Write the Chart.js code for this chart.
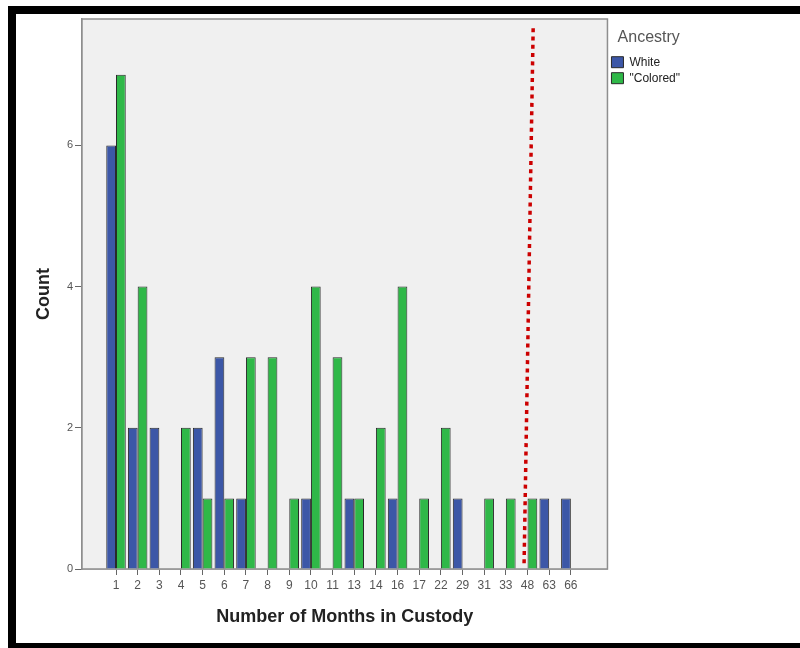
<!DOCTYPE html>
<html>
<head>
<meta charset="utf-8">
<script src="https://cdn.jsdelivr.net/npm/chart.js@4/dist/chart.umd.min.js"></script>
<style>
  html, body { margin: 0; padding: 0; background: #fff; overflow: hidden; }
  #wrap { position: relative; width: 800px; height: 648px; }
  #frame {
    position: absolute; left: 8px; top: 6px; width: 800px; height: 629px;
    border-left: 8px solid #000; border-top: 8px solid #000; border-bottom: 5px solid #000;
    pointer-events: none;
  }
</style>
</head>
<body>
<div id="wrap">
  <canvas id="custodyChart" width="800" height="648"></canvas>
  <div id="frame"></div>
</div>
<script>
const months = ['1', '2', '3', '4', '5', '6', '7', '8', '9', '10', '11', '13', '14', '16', '17', '22', '29', '31', '33', '48', '63', '66'];
const whiteCounts = [6, 2, 2, 0, 2, 3, 1, 0, 0, 1, 0, 1, 0, 1, 0, 0, 1, 0, 0, 0, 1, 1];
const coloredCounts = [7, 4, 0, 2, 1, 1, 3, 3, 1, 4, 3, 1, 2, 4, 1, 2, 0, 1, 1, 1, 0, 0];
const yTicks = [0, 2, 4, 6];

// dotted reference line, in axis units (category index, count)
const cutoffX = [19.26, 18.84];
const cutoffY = [7.66, 0.06];

const toPoints = arr => arr.map((v, i) => ({ x: i, y: v === 0 ? null : v }));

const plotFrame = {
  id: 'plotFrame',
  beforeDatasetsDraw(chart) {
    const { ctx, chartArea: a } = chart;
    ctx.save();
    ctx.fillStyle = '#f0f0f0';
    ctx.fillRect(a.left, a.top, a.right - a.left, a.bottom - a.top);
    ctx.strokeStyle = '#8e8e8e';
    ctx.lineWidth = 1.5;
    ctx.strokeRect(a.left, a.top, a.right - a.left, a.bottom - a.top);
    ctx.restore();
  }
};

const cutoffLine = {
  id: 'cutoffLine',
  afterDatasetsDraw(chart) {
    const { ctx, scales: { x, y } } = chart;
    ctx.save();
    ctx.strokeStyle = '#cc0000';
    ctx.lineWidth = 3.5;
    ctx.setLineDash([4, 4.3]);
    ctx.beginPath();
    ctx.moveTo(x.getPixelForValue(cutoffX[0]), y.getPixelForValue(cutoffY[0]));
    ctx.lineTo(x.getPixelForValue(cutoffX[1]), y.getPixelForValue(cutoffY[1]));
    ctx.stroke();
    ctx.restore();
  }
};

const ctx = document.getElementById('custodyChart').getContext('2d');
const custodyChart = new Chart(ctx, {
  type: 'bar',
  data: {
    datasets: [{
      label: 'White',
      data: toPoints(whiteCounts),
      backgroundColor: '#3c57a7',
      borderColor: '#2a2a2a',
      borderWidth: 1
    }, {
      label: '"Colored"',
      data: toPoints(coloredCounts),
      backgroundColor: '#2fb848',
      borderColor: '#2a2a2a',
      borderWidth: 1
    }]
  },
  options: {
    responsive: false,
    animation: false,
    layout: { padding: { left: 16, top: 19, bottom: 8, right: 110 } },
    datasets: { bar: { categoryPercentage: 0.9, barPercentage: 1 } },
    plugins: {
      tooltip: { enabled: false },
      legend: {
        position: 'right',
        align: 'start',
        title: { display: true, text: 'Ancestry', color: '#555', font: { family: 'Liberation Sans', size: 16 }, padding: { top: 11, bottom: 3 } },
        labels: {
          boxWidth: 12, boxHeight: 11, padding: 4,
          color: '#222',
          font: { family: 'Liberation Sans', size: 12 }
        }
      }
    },
    scales: {
      x: {
        type: 'linear',
        offset: false,
        min: -1.57,
        max: 22.69,
        afterBuildTicks: s => { s.ticks = months.map((m, i) => ({ value: i })); },
        afterFit: s => { s.height = 71; },
        ticks: {
          autoSkip: false, maxRotation: 0, padding: 3,
          color: '#555',
          font: { family: 'Liberation Sans', size: 12 },
          callback: v => months[v]
        },
        grid: { offset: false, drawOnChartArea: false, tickLength: 6, color: '#666' },
        border: { color: '#8e8e8e', width: 1.5 },
        title: {
          display: true, text: 'Number of Months in Custody',
          color: '#222', font: { family: 'Liberation Sans', size: 18, weight: 'bold' },
          padding: { bottom: 12 }
        }
      },
      y: {
        min: 0,
        max: 7.79,
        afterBuildTicks: s => { s.ticks = yTicks.map(v => ({ value: v })); },
        afterFit: s => { s.width = 66; },
        ticks: { color: '#555', font: { family: 'Liberation Sans', size: 11 }, padding: 2 },
        grid: { drawOnChartArea: false, tickLength: 7, color: '#666' },
        border: { color: '#8e8e8e', width: 1.5 },
        title: {
          display: true, text: 'Count',
          color: '#222', font: { family: 'Liberation Sans', size: 18, weight: 'bold' },
          padding: { top: 17 }
        }
      }
    }
  },
  plugins: [plotFrame, cutoffLine]
});
</script>
</body>
</html>
